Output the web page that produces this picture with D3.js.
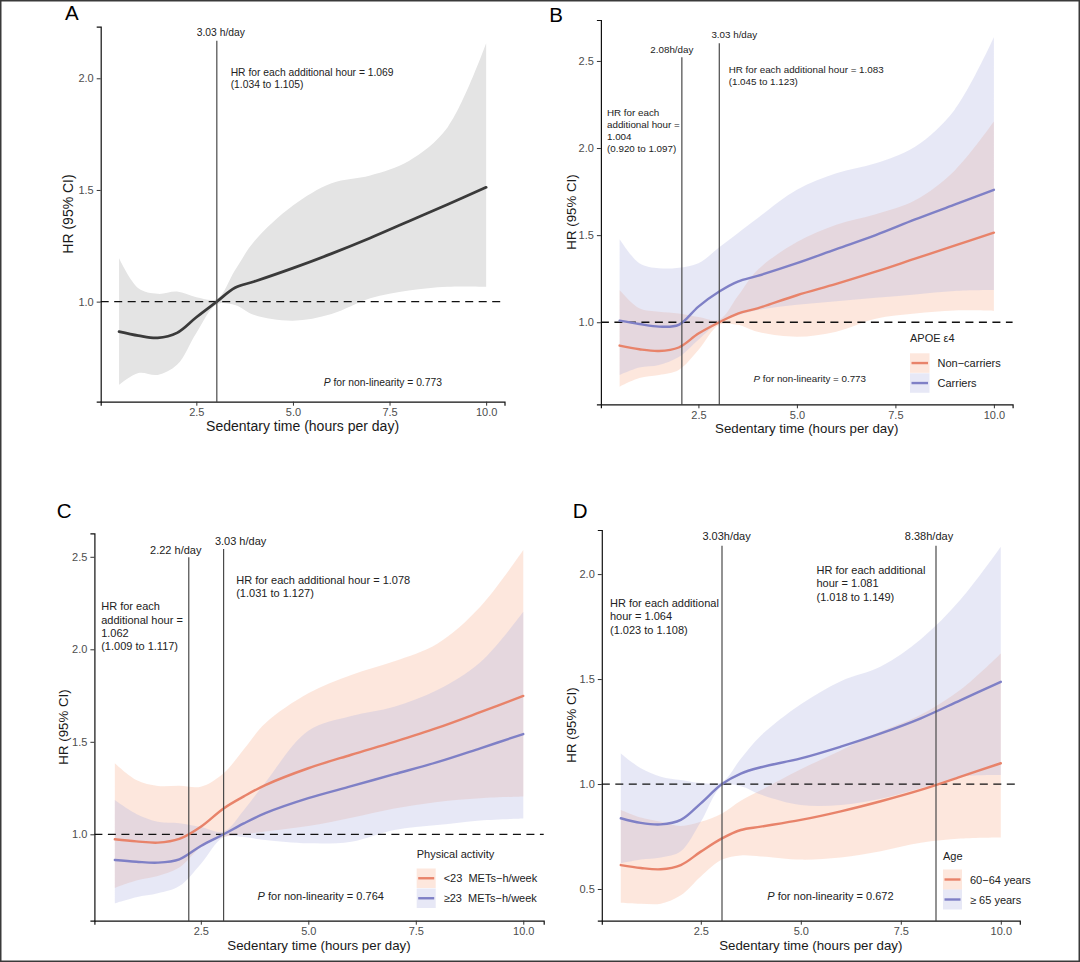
<!DOCTYPE html>
<html><head><meta charset="utf-8">
<script src="https://cdn.jsdelivr.net/npm/d3@7"></script>
<style>
html,body{margin:0;padding:0;background:#fff;}
svg{display:block;font-family:"Liberation Sans",Arial,Helvetica,sans-serif;}
</style></head><body>
<svg id="chart" width="1080" height="962"></svg>
<script>
// ---------------- data ----------------
const xs = [0.5, 1.0, 1.5, 2.0, 2.5, 3.03, 3.5, 4.0, 5.0, 6.0, 7.0, 8.0, 9.0, 10.0];
const xTicks = [2.5, 5.0, 7.5, 10.0];

// Panel A: overall
const aHR  = [0.866, 0.848, 0.838, 0.860, 0.930, 1.000, 1.062, 1.090, 1.150, 1.215, 1.285, 1.360, 1.435, 1.512];
const aUp  = [1.194, 1.060, 1.035, 1.045, 1.020, 1.012, 1.140, 1.270, 1.430, 1.530, 1.565, 1.630, 1.780, 2.157];
const aLow = [0.627, 0.680, 0.672, 0.717, 0.860, 0.988, 0.985, 0.940, 0.915, 0.945, 1.015, 1.050, 1.067, 1.067];

// Panel B: APOE e4
const bNcHR  = [0.866, 0.845, 0.835, 0.855, 0.935, 1.000, 1.050, 1.080, 1.155, 1.220, 1.290, 1.365, 1.440, 1.514];
const bNcUp  = [1.185, 1.080, 1.060, 1.050, 1.030, 1.015, 1.150, 1.300, 1.460, 1.560, 1.620, 1.700, 1.870, 2.152];
const bNcLow = [0.630, 0.680, 0.697, 0.726, 0.840, 0.985, 0.985, 0.945, 0.917, 0.946, 1.020, 1.050, 1.068, 1.065];
const bCaHR  = [1.009, 0.990, 0.975, 0.985, 1.090, 1.176, 1.233, 1.266, 1.339, 1.420, 1.500, 1.590, 1.675, 1.760];
const bCaUp  = [1.476, 1.339, 1.310, 1.313, 1.339, 1.430, 1.511, 1.597, 1.760, 1.855, 1.913, 2.008, 2.219, 2.636];
const bCaLow = [0.697, 0.740, 0.755, 0.800, 0.900, 1.000, 1.040, 1.070, 1.100, 1.120, 1.140, 1.160, 1.180, 1.185];

// Panel C: physical activity
const cLoHR  = [0.973, 0.962, 0.955, 0.975, 1.041, 1.140, 1.205, 1.266, 1.357, 1.430, 1.500, 1.575, 1.660, 1.748];
const cLoUp  = [1.384, 1.293, 1.261, 1.262, 1.257, 1.330, 1.460, 1.600, 1.762, 1.861, 1.935, 2.030, 2.230, 2.537];
const cLoLow = [0.710, 0.750, 0.775, 0.820, 0.930, 0.985, 1.000, 1.015, 1.045, 1.090, 1.140, 1.175, 1.195, 1.205];
const cHiHR  = [0.861, 0.852, 0.847, 0.865, 0.937, 1.000, 1.059, 1.114, 1.195, 1.260, 1.325, 1.390, 1.465, 1.542];
const cHiUp  = [1.185, 1.110, 1.068, 1.060, 1.040, 1.015, 1.130, 1.280, 1.560, 1.640, 1.690, 1.780, 1.930, 2.203];
const cHiLow = [0.627, 0.660, 0.681, 0.720, 0.840, 0.985, 0.985, 0.969, 0.951, 0.960, 1.023, 1.050, 1.075, 1.086];

// Panel D: age
const dYoHR  = [0.614, 0.600, 0.594, 0.614, 0.678, 0.741, 0.781, 0.797, 0.829, 0.870, 0.918, 0.972, 1.035, 1.099];
const dYoUp  = [0.876, 0.840, 0.820, 0.800, 0.820, 0.860, 0.920, 0.970, 1.070, 1.160, 1.250, 1.330, 1.450, 1.622];
const dYoLow = [0.435, 0.430, 0.430, 0.470, 0.560, 0.640, 0.660, 0.655, 0.640, 0.650, 0.680, 0.720, 0.740, 0.745];
const dOlHR  = [0.837, 0.815, 0.808, 0.829, 0.908, 1.000, 1.050, 1.080, 1.122, 1.178, 1.241, 1.313, 1.400, 1.487];
const dOlUp  = [1.146, 1.075, 1.035, 1.019, 1.005, 1.010, 1.120, 1.230, 1.380, 1.490, 1.560, 1.690, 1.880, 2.130];
const dOlLow = [0.622, 0.640, 0.650, 0.680, 0.820, 0.990, 0.990, 0.950, 0.900, 0.900, 0.930, 0.980, 1.035, 1.043];

// ---------------- styles ----------------
const ORANGE = "#E8836A", PURPLE = "#7F80C6";
const ORANGE_FILL = "rgb(250,188,162)", PURPLE_FILL = "rgb(176,180,224)";
const orangeS = (hr, lo, up) => ({hr, lo, up, line: ORANGE, fill: ORANGE_FILL, op: 0.36, lw: 2.4});
const purpleS = (hr, lo, up) => ({hr, lo, up, line: PURPLE, fill: PURPLE_FILL, op: 0.30, lw: 2.4});
const CURVE = d3.curveCatmullRom.alpha(0.5);

const panels = [
  { letter: "A", letterPos: [65, 20],
    xRange: [100.7, 504.5], yRange: [401.7, 26.7], yDomain: [0.552, 2.231], yTicks: [1.0, 1.5, 2.0],
    series: [{hr: aHR, lo: aLow, up: aUp, line: "#3a3a3a", fill: "#e4e4e4", op: 1, lw: 2.7}],
    vlines: [{x: 3.03, top: 40.7, label: "3.03 h/day", dx: 4, by: 35.7}],
    fs: 10.3, titleFs: 14,
    notes: [{x: 230.7, y: 75.7, lh: 12.4, lines: ["HR for each additional hour = 1.069", "(1.034 to 1.105)"]}],
    p: {x: 323.7, y: 386.4, v: "0.773"},
    xTitle: [302.6, 431], yTitle: [73, 214] },
  { letter: "B", letterPos: [549.3, 21.7],
    xRange: [600.9, 1012.6], yRange: [404.3, 20], yDomain: [0.529, 2.735], yTicks: [1.0, 1.5, 2.0, 2.5],
    series: [orangeS(bNcHR, bNcLow, bNcUp), purpleS(bCaHR, bCaLow, bCaUp)],
    vlines: [{x: 2.08, top: 57.3, label: "2.08h/day", dx: -10, by: 53.2},
             {x: 3.03, top: 43.3, label: "3.03 h/day", dx: 15, by: 38.2}],
    fs: 9.8, titleFs: 13.3,
    notes: [{x: 728.7, y: 73.1, lh: 11.4, lines: ["HR for each additional hour = 1.083", "(1.045 to 1.123)"]},
            {x: 607, y: 116.4, lh: 11.7, lines: ["HR for each", "additional hour =", "1.004", "(0.920 to 1.097)"]}],
    p: {x: 753.5, y: 382, v: "0.773"},
    legend: {x: 910, titleY: 341.7, keyY: [353.3, 373.3], keyW: 19.5, keyH: 19.5, title: "APOE \u03B54",
             labels: ["Non\u2212carriers", "Carriers"]},
    xTitle: [806.7, 433], yTitle: [576, 212] },
  { letter: "C", letterPos: [56.8, 518],
    xRange: [94.4, 543.7], yRange: [920.7, 533.3], yDomain: [0.533, 2.627], yTicks: [1.0, 1.5, 2.0, 2.5],
    series: [orangeS(cLoHR, cLoLow, cLoUp), purpleS(cHiHR, cHiLow, cHiUp)],
    vlines: [{x: 2.22, top: 557.3, label: "2.22 h/day", dx: -13, by: 553.6},
             {x: 3.03, top: 549, label: "3.03 h/day", dx: 17, by: 544.6}],
    fs: 11, titleFs: 13.3,
    notes: [{x: 236.2, y: 583.6, lh: 13.3, lines: ["HR for each additional hour = 1.078", "(1.031 to 1.127)"]},
            {x: 101.2, y: 610.2, lh: 13.3, lines: ["HR for each", "additional hour =", "1.062", "(1.009 to 1.117)"]}],
    p: {x: 257.6, y: 900.3, v: "0.764"},
    legend: {x: 416.7, titleY: 858.3, keyY: [868.5, 888.5], keyW: 19, keyH: 19.5, title: "Physical activity",
             labels: ["<23  METs\u2212h/week", "\u226523  METs\u2212h/week"]},
    xTitle: [319, 950], yTitle: [68, 727] },
  { letter: "D", letterPos: [572.7, 518.3],
    xRange: [601.8, 1019.8], yRange: [920.7, 530], yDomain: [0.349, 2.21], yTicks: [0.5, 1.0, 1.5, 2.0],
    series: [orangeS(dYoHR, dYoLow, dYoUp), purpleS(dOlHR, dOlLow, dOlUp)],
    vlines: [{x: 3.03, top: 545.7, label: "3.03h/day", dx: 4.6, by: 539.6},
             {x: 8.38, top: 545.7, label: "8.38h/day", dx: -7, by: 539.6}],
    fs: 11, titleFs: 13.3,
    notes: [{x: 816.5, y: 573.9, lh: 13.3, lines: ["HR for each additional", "hour = 1.081", "(1.018 to 1.149)"]},
            {x: 610, y: 606.9, lh: 13.3, lines: ["HR for each additional", "hour = 1.064", "(1.023 to 1.108)"]}],
    p: {x: 767.3, y: 900.3, v: "0.672"},
    legend: {x: 943, titleY: 860, keyY: [869.5, 889.5], keyW: 19, keyH: 20, title: "Age",
             labels: ["60\u221264 years", "\u2265 65 years"]},
    xTitle: [810.8, 950], yTitle: [576, 725] }
];

const svg = d3.select("#chart");
svg.append("rect").attr("x", 0).attr("y", 0).attr("width", 1080).attr("height", 962).attr("fill", "#fff");

function drawPanel(p) {
  const x = d3.scaleLinear().domain([0.025, 10.475]).range(p.xRange);
  const y = d3.scaleLinear().domain(p.yDomain).range(p.yRange);
  const g = svg.append("g");

  // ribbons
  p.series.forEach(s => {
    const rows = xs.map((v, i) => ({x: v, lo: s.lo[i], up: s.up[i]}));
    const area = d3.area().x(d => x(d.x)).y0(d => y(d.lo)).y1(d => y(d.up)).curve(CURVE);
    g.append("path").datum(rows).attr("d", area).attr("fill", s.fill).attr("fill-opacity", s.op);
  });

  // reference line HR = 1
  g.append("line").attr("x1", p.xRange[0]).attr("x2", p.xRange[1])
    .attr("y1", y(1)).attr("y2", y(1))
    .attr("stroke", "#111").attr("stroke-width", 1.3).attr("stroke-dasharray", "8,5.5");

  // curves
  p.series.forEach(s => {
    const rows = xs.map((v, i) => ({x: v, hr: s.hr[i]}));
    const line = d3.line().x(d => x(d.x)).y(d => y(d.hr)).curve(CURVE);
    g.append("path").datum(rows).attr("d", line).attr("fill", "none")
      .attr("stroke", s.line).attr("stroke-width", s.lw).attr("stroke-linecap", "round");
  });

  // vertical threshold lines
  p.vlines.forEach(v => {
    g.append("line").attr("x1", x(v.x)).attr("x2", x(v.x))
      .attr("y1", p.yRange[0]).attr("y2", v.top)
      .attr("stroke", "#4a4a4a").attr("stroke-width", 1.2);
    g.append("text").attr("x", x(v.x) + v.dx).attr("y", v.by)
      .attr("text-anchor", "middle").attr("font-size", p.fs).attr("fill", "#222").text(v.label);
  });

  // axes
  const xa = g.append("g").attr("transform", `translate(0,${p.yRange[0]})`)
    .call(d3.axisBottom(x).tickValues(xTicks).tickFormat(d3.format(".1f"))
      .tickSizeOuter(0).tickSize(4).tickPadding(2.5));
  const ya = g.append("g").attr("transform", `translate(${p.xRange[0]},0)`)
    .call(d3.axisLeft(y).tickValues(p.yTicks).tickFormat(d3.format(".1f"))
      .tickSizeOuter(0).tickSize(4).tickPadding(3));
  [xa, ya].forEach(a => {
    a.select(".domain").attr("stroke", "#111").attr("stroke-width", 1.2);
    a.selectAll(".tick line").attr("stroke", "#333").attr("stroke-width", 1);
    a.selectAll(".tick text").attr("fill", "#4d4d4d").attr("font-size", 11)
      .attr("font-family", "Liberation Sans, Arial, sans-serif");
  });

  // axis titles
  g.append("text").attr("x", p.xTitle[0]).attr("y", p.xTitle[1]).attr("text-anchor", "middle")
    .attr("font-size", p.titleFs).attr("fill", "#1a1a1a").text("Sedentary time (hours per day)");
  g.append("text").attr("transform", `translate(${p.yTitle[0]},${p.yTitle[1]}) rotate(-90)`)
    .attr("text-anchor", "middle").attr("font-size", p.titleFs).attr("fill", "#1a1a1a").text("HR (95% CI)");

  // panel letter
  g.append("text").attr("x", p.letterPos[0]).attr("y", p.letterPos[1])
    .attr("font-size", 20.5).attr("fill", "#000").text(p.letter);

  // notes
  p.notes.forEach(n => {
    const t = g.append("text").attr("font-size", p.fs).attr("fill", "#222");
    n.lines.forEach((ln, i) => {
      t.append("tspan").attr("x", n.x).attr("y", n.y + i * n.lh).text(ln);
    });
  });

  // P for non-linearity
  const pt = g.append("text").attr("x", p.p.x).attr("y", p.p.y).attr("font-size", p.fs).attr("fill", "#222");
  pt.append("tspan").attr("font-style", "italic").text("P");
  pt.append("tspan").text(" for non-linearity = " + p.p.v);

  // legend
  if (p.legend) {
    const L = p.legend;
    g.append("text").attr("x", L.x).attr("y", L.titleY).attr("font-size", 11).attr("fill", "#222").text(L.title);
    p.series.forEach((s, i) => {
      const ky = L.keyY[i];
      g.append("rect").attr("x", L.x).attr("y", ky).attr("width", L.keyW).attr("height", L.keyH)
        .attr("fill", s.fill).attr("fill-opacity", s.op);
      g.append("line").attr("x1", L.x + 1.5).attr("x2", L.x + L.keyW - 1.5)
        .attr("y1", ky + L.keyH / 2).attr("y2", ky + L.keyH / 2)
        .attr("stroke", s.line).attr("stroke-width", 2.4);
      g.append("text").attr("x", L.x + L.keyW + 8).attr("y", ky + L.keyH / 2 + 4)
        .attr("font-size", 11).attr("fill", "#222").style("white-space", "pre").text(L.labels[i]);
    });
  }
}

panels.forEach(drawPanel);

// outer frame
svg.append("rect").attr("x", 0.75).attr("y", 0.75).attr("width", 1078.5).attr("height", 960.5)
  .attr("fill", "none").attr("stroke", "#3a3a3a").attr("stroke-width", 1.5);
</script>
</body></html>
